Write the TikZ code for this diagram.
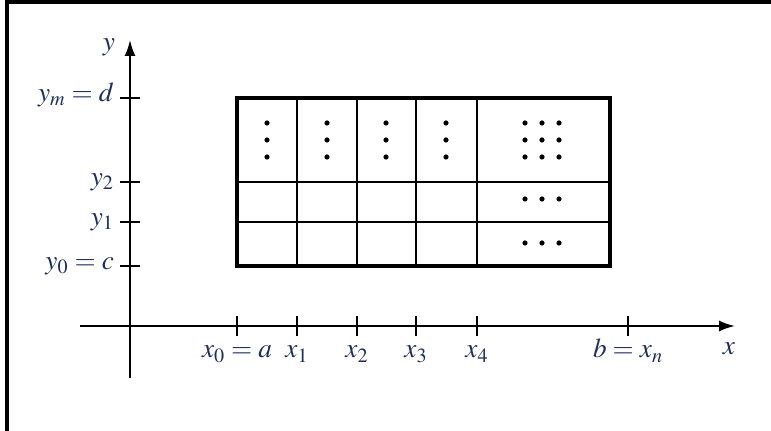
\documentclass[tikz,border=0pt]{standalone}
\usepackage{mathptmx}
\usetikzlibrary{arrows.meta}
\definecolor{labelblue}{RGB}{30,48,85}

\begin{document}
\begin{tikzpicture}[x=0.02cm, y=-0.02cm,
  lbl/.style={text=labelblue, font=\fontsize{15.5}{18}\selectfont, inner sep=1pt},
  axis/.style={line width=1.1pt, -{Latex[length=0.32cm, width=0.22cm]}},
  tick/.style={line width=1pt},
  gridline/.style={line width=1pt},
  border/.style={line width=2.4pt},
  frameline/.style={line width=1.8pt}]
\useasboundingbox (0,0) rectangle (771,431);
%----------------- frame -----------------
\draw[frameline] (7,431) -- (7,2) -- (771,2);
%----------------- axes -----------------
\coordinate (xstart) at (80,326);
\coordinate (xend) at (735,326);
\coordinate (ystart) at (130,378);
\coordinate (yend) at (130,40);
\draw[axis] (xstart) -- (xend);
\draw[axis] (ystart) -- (yend);
\node[lbl] (xlab) at (729,349) {$x$};
\node[lbl] (ylab) at (109,47) {$y$};
% ticks on the x axis
\foreach \name/\xpos/\txt in {x0/237/{x_0 = a}, x1/297/{x_1}, x2/357/{x_2}, x3/416/{x_3}, x4/477/{x_4}, xn/628/{b = x_n}}
{
  \draw[tick] (\xpos,316) -- (\xpos,336);
  \node[lbl, anchor=base] (lab-\name) at (\xpos,358) {$\txt$};
}
% ticks on the y axis
\foreach \name/\ypos/\txt in {ym/98/{y_m = d}, y2/182/{y_2}, y1/222/{y_1}, y0/266/{y_0 = c}}
{
  \draw[tick] (120,\ypos) -- (140,\ypos);
  \node[lbl, anchor=mid east] (lab-\name) at (116,\ypos) {$\txt$};
}
%----------------- partition of the rectangle -----------------
\foreach \xpos in {297,357,416,477} \draw[gridline] (\xpos,98) -- (\xpos,266);
\foreach \ypos in {182,222} \draw[gridline] (237,\ypos) -- (610,\ypos);
\draw[border] (237,98) rectangle (610,266);
% vertical dots
\foreach \xpos in {267,327,386,446}
  \foreach \ypos in {123,140,157} \fill (\xpos,\ypos) circle (2.6);
% dots in the last column
\foreach \xpos in {525,542,559}
{
  \foreach \ypos in {123,140,157,199,243} \fill (\xpos,\ypos) circle (2.6);
}
\end{tikzpicture}
\end{document}
